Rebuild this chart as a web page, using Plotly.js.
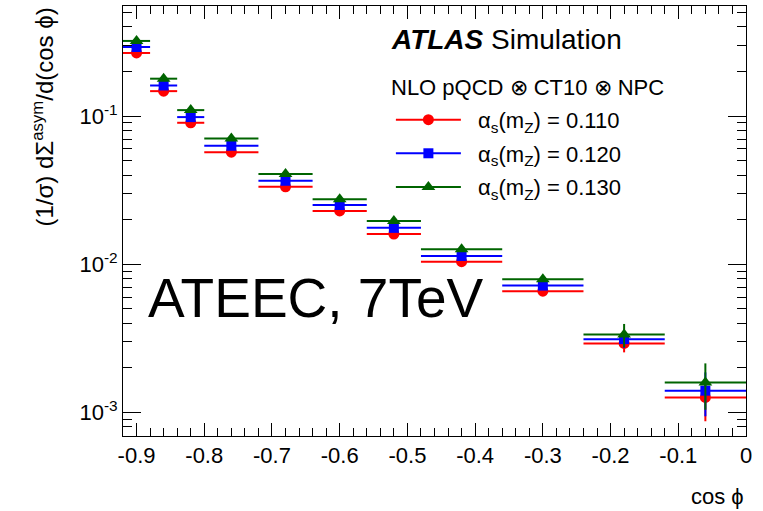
<!DOCTYPE html>
<html>
<head>
<meta charset="utf-8">
<script src="https://cdn.plot.ly/plotly-3.0.1.min.js"></script>
<style>html,body{margin:0;padding:0;background:#fff;}#chart{width:763px;height:511px;}</style>
</head>
<body>
<div id="chart"></div>
<script>
// Bin centres and half-widths in cos(phi)
const binCenters = [-0.9, -0.86, -0.82, -0.76, -0.68, -0.6, -0.52, -0.42, -0.3, -0.18, -0.06];
const binHalfWidths = [0.02, 0.02, 0.02, 0.04, 0.04, 0.04, 0.04, 0.06, 0.06, 0.06, 0.06];

// (1/sigma) dSigma^asym/d(cos phi) for three alpha_s(mZ) values
const as110 = [0.267, 0.1475, 0.0902, 0.0571, 0.0333, 0.0229, 0.0160, 0.01041, 0.00658, 0.00292, 0.00126];
const as120 = [0.293, 0.161, 0.0985, 0.0631, 0.0366, 0.0251, 0.0176, 0.01137, 0.00717, 0.00312, 0.00140];
const as130 = [0.322, 0.179, 0.1098, 0.0707, 0.0406, 0.0275, 0.0196, 0.0126, 0.00792, 0.00335, 0.00159];

const err110 = [0.004, 0.002, 0.0012, 0.0008, 0.0005, 0.0004, 0.0003, 0.0002, 0.00015, 0.00038, 0.00039];
const err120 = [0.004, 0.002, 0.0012, 0.0008, 0.0005, 0.0004, 0.0003, 0.0002, 0.00015, 0.0004, 0.00046];
const err130 = [0.004, 0.002, 0.0012, 0.0008, 0.0005, 0.0004, 0.0003, 0.0002, 0.00015, 0.0006, 0.00055];

const seriesNames = ['α<sub>s</sub>(m<sub>Z</sub>) = 0.110', 'α<sub>s</sub>(m<sub>Z</sub>) = 0.120', 'α<sub>s</sub>(m<sub>Z</sub>) = 0.130'];

const xTickVals = [-0.9, -0.8, -0.7, -0.6, -0.5, -0.4, -0.3, -0.2, -0.1, 0];
const xTickText = ['-0.9', '-0.8', '-0.7', '-0.6', '-0.5', '-0.4', '-0.3', '-0.2', '-0.1', '0'];
const yTickVals = [0.001, 0.01, 0.1];
const yTickText = ['10<sup>-3</sup>', '10<sup>-2</sup>', '10<sup>-1</sup>'];

const colors = ['#ff0000', '#0000ff', '#006400'];
const symbols = ['circle', 'square', 'triangle-up'];
const sizes = [11, 10, 12];

const yMinor = [];
[0.0001, 0.001, 0.01, 0.1].forEach(d => { for (let k = 2; k <= 9; k++) yMinor.push(d * k); });
const xMinor = [];
for (let i = -46; i <= 0; i++) xMinor.push(i * 0.02);

const ys = [as110, as120, as130];
const es = [err110, err120, err130];
const traces = [];
for (let s = 0; s < 3; s++) {
  traces.push({
    type: 'scatter', mode: 'markers', x: binCenters, y: ys[s], showlegend: false,
    marker: {color: colors[s], symbol: symbols[s], size: sizes[s], line: {width: 0}},
    error_x: {type: 'data', array: binHalfWidths, color: colors[s], thickness: 2, width: 0},
    error_y: {type: 'data', array: es[s], color: colors[s], thickness: 2, width: 0}
  });
}
for (let s = 0; s < 3; s++) {
  traces.push({
    type: 'scatter', mode: 'lines+markers', x: [null], y: [null], name: '\u00a0\u00a0' + seriesNames[s],
    legendgroup: 'g' + s,
    line: {color: colors[s], width: 2},
    marker: {color: colors[s], symbol: symbols[s], size: sizes[s]}
  });
}

const font = 'Liberation Sans, Arial, Helvetica, sans-serif';
const layout = {
  width: 763, height: 511,
  margin: {l: 123, r: 17, t: 6, b: 75},
  paper_bgcolor: '#fff', plot_bgcolor: '#fff',
  font: {family: font, color: '#000', size: 22},
  showlegend: true,
  legend: {x: 0.43, y: 0.784, xanchor: 'left', yanchor: 'top', bgcolor: 'rgba(0,0,0,0)',
           font: {size: 22, family: font}, itemwidth: 65, tracegroupgap: 2},
  xaxis: {
    range: [-0.92, 0], showgrid: false, zeroline: false, showline: true, linecolor: '#000', linewidth: 1,
    mirror: 'ticks', ticks: 'inside', ticklen: 13, tickcolor: '#000', tickwidth: 1,
    tickmode: 'array', tickvals: xTickVals, ticktext: xTickText, tickfont: {size: 22, family: font},
    minor: {tickmode: 'array', tickvals: xMinor, ticks: 'inside', ticklen: 8, tickcolor: '#000', showgrid: false}
  },
  yaxis: {
    type: 'log', range: [-3.16, -0.2563], showgrid: false, zeroline: false, showline: true, linecolor: '#000', linewidth: 1,
    mirror: 'ticks', ticks: 'inside', ticklen: 18, tickcolor: '#000', tickwidth: 1,
    tickmode: 'array', tickvals: yTickVals, ticktext: yTickText, tickfont: {size: 22, family: font},
    minor: {tickmode: 'array', tickvals: yMinor, ticks: 'inside', ticklen: 9, tickcolor: '#000', showgrid: false}
  },
  annotations: [
    {xref: 'paper', yref: 'paper', x: -0.13, y: 1.0, xanchor: 'center', yanchor: 'top', textangle: -90,
     text: '(1/σ) dΣ<sup>asym</sup>/d(cos ϕ)', showarrow: false, font: {size: 24, family: font}},
    {xref: 'paper', yref: 'paper', x: 1.0, y: -0.14, xanchor: 'right', yanchor: 'middle',
     text: 'cos ϕ', showarrow: false, font: {size: 22, family: font}},
    {xref: 'paper', yref: 'paper', x: 0.427, y: 0.923, xanchor: 'left', yanchor: 'middle',
     text: '<b><i>ATLAS</i></b> Simulation', showarrow: false, font: {size: 28, family: font}},
    {xref: 'paper', yref: 'paper', x: 0.427, y: 0.81, xanchor: 'left', yanchor: 'middle',
     text: 'NLO pQCD ⊗ CT10 ⊗ NPC', showarrow: false, font: {size: 22, family: font}},
    {xref: 'paper', yref: 'paper', x: 0.037, y: 0.32, xanchor: 'left', yanchor: 'middle',
     text: 'ATEEC, 7TeV', showarrow: false, font: {size: 55, family: font}}
  ]
};
Plotly.newPlot('chart', traces, layout, {staticPlot: true, displayModeBar: false});
</script>
</body>
</html>
